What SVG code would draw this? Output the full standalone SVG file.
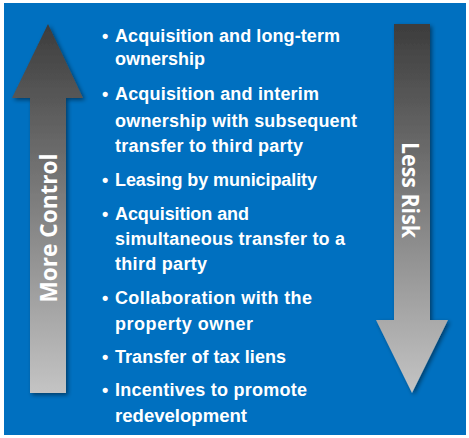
<svg xmlns="http://www.w3.org/2000/svg" width="469" height="438" viewBox="0 0 469 438">
<defs>
<linearGradient id="gUp" gradientUnits="userSpaceOnUse" x1="0" y1="24" x2="0" y2="393">
<stop offset="0" stop-color="#3c3c3c"/><stop offset="1" stop-color="#c4c4c4"/>
</linearGradient>
<linearGradient id="gDown" gradientUnits="userSpaceOnUse" x1="0" y1="24" x2="0" y2="393">
<stop offset="0" stop-color="#3c3c3c"/><stop offset="1" stop-color="#c4c4c4"/>
</linearGradient>
<filter id="sh" x="-20%" y="-10%" width="150%" height="130%">
<feDropShadow dx="2" dy="2" stdDeviation="2" flood-color="#000" flood-opacity="0.45"/>
</filter>
</defs>
<style>
.item{font-family:"Liberation Sans",Arial,sans-serif;font-weight:bold;font-size:18px;fill:#fff}
.lbl{font-family:"Open Sans","Liberation Sans",sans-serif;font-weight:bold;font-size:24px;fill:#fff;text-anchor:middle}
</style>
<rect x="4" y="3" width="462" height="432" fill="#0070C0"/>
<g id="more-control">
<polygon points="48,24 83,98 66,98 66,393 30,393 30,98 12,98" fill="url(#gUp)" filter="url(#sh)"/>
<text class="lbl" transform="translate(57,228) rotate(-90)" textLength="149" lengthAdjust="spacingAndGlyphs">More Control</text>
</g>
<g id="less-risk">
<polygon points="394,24 430,24 430,320 448,320 412,393 376,320 394,320" fill="url(#gDown)" filter="url(#sh)"/>
<text class="lbl" transform="translate(402,190) rotate(90)" textLength="96" lengthAdjust="spacingAndGlyphs">Less Risk</text>
</g>
<g id="list">
<text class="item" x="102" y="42">•</text>
<text class="item" x="115" y="42" textLength="225" lengthAdjust="spacing">Acquisition and long-term</text>
<text class="item" x="115" y="65" textLength="90" lengthAdjust="spacingAndGlyphs">ownership</text>
<text class="item" x="102" y="100">•</text>
<text class="item" x="115" y="100" textLength="204" lengthAdjust="spacing">Acquisition and interim</text>
<text class="item" x="115" y="127" textLength="242" lengthAdjust="spacing">ownership with subsequent</text>
<text class="item" x="115" y="152" textLength="188" lengthAdjust="spacing">transfer to third party</text>
<text class="item" x="102" y="186">•</text>
<text class="item" x="115" y="186" textLength="202" lengthAdjust="spacing">Leasing by municipality</text>
<text class="item" x="102" y="220">•</text>
<text class="item" x="115" y="220" textLength="134" lengthAdjust="spacing">Acquisition and</text>
<text class="item" x="115" y="245" textLength="230" lengthAdjust="spacing">simultaneous transfer to a</text>
<text class="item" x="115" y="270" textLength="92" lengthAdjust="spacing">third party</text>
<text class="item" x="102" y="304">•</text>
<text class="item" x="115" y="304" textLength="197" lengthAdjust="spacing">Collaboration with the</text>
<text class="item" x="115" y="330" textLength="138" lengthAdjust="spacing">property owner</text>
<text class="item" x="102" y="363">•</text>
<text class="item" x="115" y="363" textLength="171" lengthAdjust="spacing">Transfer of tax liens</text>
<text class="item" x="102" y="396">•</text>
<text class="item" x="115" y="396" textLength="192" lengthAdjust="spacing">Incentives to promote</text>
<text class="item" x="115" y="422" textLength="132" lengthAdjust="spacingAndGlyphs">redevelopment</text>
</g>
</svg>
